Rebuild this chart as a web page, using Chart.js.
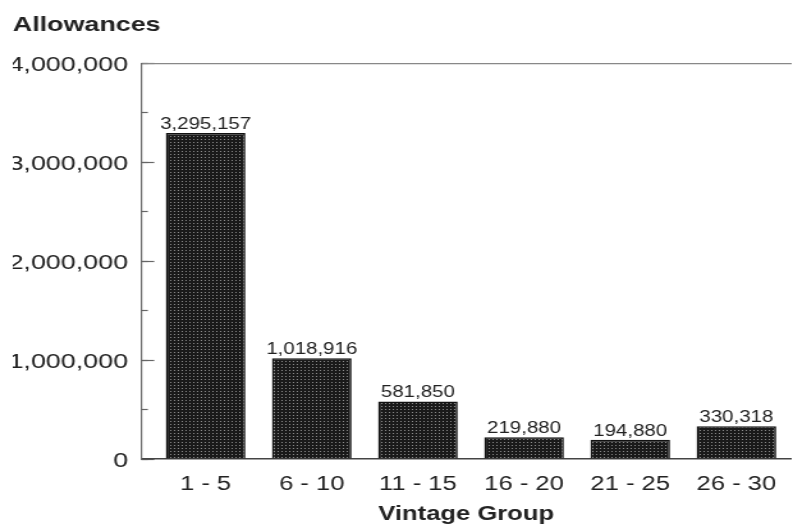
<!DOCTYPE html>
<html>
<head>
<meta charset="utf-8">
<title>Allowances by Vintage Group</title>
<script src="https://cdn.jsdelivr.net/npm/chart.js@4.4.1/dist/chart.umd.min.js"></script>
<style>
  html, body { margin: 0; padding: 0; background: #fff; }
  #chart { display: block; }
</style>
</head>
<body>
<!-- the original figure is stretched sideways, so the canvas is drawn narrow and widened to 793px -->
<canvas id="chart" width="620" height="526" style="width: 793px; height: 526px;"></canvas>
<script>
// chart data
var categories = ['1 - 5', '6 - 10', '11 - 15', '16 - 20', '21 - 25', '26 - 30'];
var allowances = [3295157, 1018916, 581850, 219880, 194880, 330318];
var yTickValues = [0, 1000000, 2000000, 3000000, 4000000];
var yMinorTickValues = [0, 500000, 1000000, 1500000, 2000000, 2500000, 3000000, 3500000, 4000000];

var FONT = '"Liberation Sans", Arial, sans-serif';
var INK = '#222';

// dotted dark fill like the printed bars
function makeStipple() {
  var c = document.createElement('canvas');
  c.width = 3;
  c.height = 3;
  var g = c.getContext('2d');
  g.fillStyle = '#1a1a1a';
  g.fillRect(0, 0, 3, 3);
  g.fillStyle = '#8a8a8a';
  g.fillRect(1, 1, 1, 1);
  return g.createPattern(c, 'repeat');
}

// values written above every bar
var barLabels = {
  id: 'barLabels',
  afterDatasetsDraw: function(chart) {
    var ctx = chart.ctx;
    var meta = chart.getDatasetMeta(0);
    ctx.save();
    ctx.font = '16px ' + FONT;
    ctx.fillStyle = INK;
    ctx.textAlign = 'center';
    ctx.textBaseline = 'alphabetic';
    meta.data.forEach(function(bar, i) {
      ctx.fillText(allowances[i].toLocaleString('en-US'), bar.x, bar.y - 4);
    });
    ctx.restore();
  }
};

window.onload = function() {
  var ctx = document.getElementById('chart').getContext('2d');

  var points = allowances.map(function(v, i) {
    return { x: i, y: v };
  });

  new Chart(ctx, {
    type: 'bar',
    data: {
      datasets: [{
        label: 'Allowances',
        data: points,
        backgroundColor: makeStipple(),
        borderColor: '#111',
        borderWidth: 1.5,
        categoryPercentage: 1,
        barPercentage: 0.75
      }]
    },
    options: {
      responsive: false,
      animation: false,
      devicePixelRatio: 1,
      layout: { padding: { left: 10, right: 0, top: 0, bottom: 0 } },
      plugins: {
        legend: { display: false },
        tooltip: { enabled: false },
        title: {
          display: true,
          text: 'Allowances',
          align: 'start',
          color: INK,
          font: { family: FONT, size: 21, weight: 'bold' },
          padding: { top: 13, bottom: 25 }
        }
      },
      scales: {
        x: {
          type: 'linear',
          position: 'bottom',
          offset: false,
          min: -0.604,
          max: 5.513,
          afterBuildTicks: function(scale) {
            scale.ticks = categories.map(function(c, i) { return { value: i }; });
          },
          afterFit: function(scale) { scale.height = 67; },
          ticks: {
            autoSkip: false,
            maxRotation: 0,
            padding: 13,
            color: INK,
            font: { family: FONT, size: 20 },
            callback: function(value) { return categories[value]; }
          },
          grid: { display: true, offset: false, drawOnChartArea: false, drawTicks: false },
          border: { display: true, color: '#444', width: 1.5 },
          title: {
            display: true,
            text: 'Vintage Group',
            color: INK,
            font: { family: FONT, size: 20, weight: 'bold' },
            padding: { top: 0, bottom: 0 }
          }
        },
        xTop: {
          type: 'linear',
          position: 'top',
          offset: false,
          min: 0,
          max: 1,
          afterFit: function(scale) { scale.height = 0; },
          ticks: { display: false },
          grid: { display: true, drawOnChartArea: false, drawTicks: false },
          border: { display: true, color: '#888', width: 1.2 }
        },
        y: {
          type: 'linear',
          position: 'left',
          weight: 1,
          min: 0,
          max: 4000000,
          afterBuildTicks: function(scale) {
            scale.ticks = yTickValues.map(function(v) { return { value: v }; });
          },
          afterFit: function(scale) { scale.width = 100.6; },
          ticks: {
            padding: 20.5,
            labelOffset: 2,
            color: INK,
            font: { family: FONT, size: 21 },
            callback: function(value) { return value.toLocaleString('en-US'); }
          },
          grid: { display: true, drawOnChartArea: false, drawTicks: true, tickLength: -10, tickColor: '#666', tickWidth: 1.2 },
          border: { display: true, color: '#666', width: 1.2 }
        },
        yMinor: {
          type: 'linear',
          position: 'left',
          weight: 0,
          min: 0,
          max: 4000000,
          afterBuildTicks: function(scale) {
            scale.ticks = yMinorTickValues.map(function(v) { return { value: v }; });
          },
          afterFit: function(scale) { scale.width = 0; },
          ticks: { display: false },
          grid: { display: true, drawOnChartArea: false, drawTicks: true, tickLength: -5, tickColor: '#666', tickWidth: 1.2 },
          border: { display: false }
        }
      }
    },
    plugins: [barLabels]
  });
};
</script>
</body>
</html>
